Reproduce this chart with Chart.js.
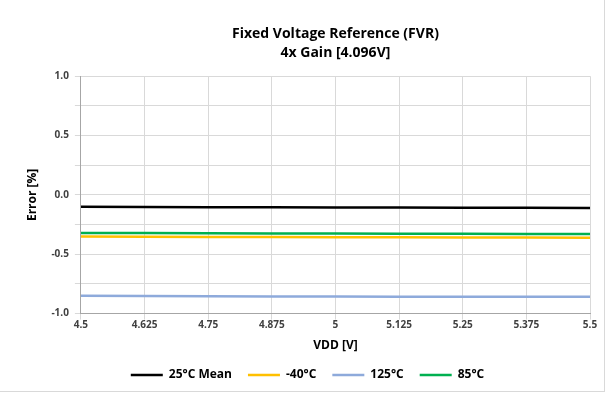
<!DOCTYPE html>
<html>
<head>
<meta charset="utf-8">
<script src="https://cdn.jsdelivr.net/npm/chart.js@4.4.0/dist/chart.umd.min.js"></script>
<style>
  html, body { margin: 0; padding: 0; background: #fff; }
  #wrap { width: 604px; height: 391px; border-right: 1px solid #d9d9d9; border-bottom: 1px solid #d9d9d9; }
</style>
</head>
<body>
<div id="wrap"><canvas id="grafico"></canvas></div>
<script>
// datos
const vdd = [4.5, 4.625, 4.75, 4.875, 5, 5.125, 5.25, 5.375, 5.5];
const mean25 = [-0.100, -0.102, -0.104, -0.105, -0.106, -0.107, -0.108, -0.109, -0.110];
const menos40 = [-0.350, -0.352, -0.354, -0.355, -0.356, -0.357, -0.358, -0.359, -0.360];
const t125 = [-0.850, -0.852, -0.854, -0.855, -0.856, -0.857, -0.857, -0.858, -0.858];
const t85 = [-0.320, -0.322, -0.324, -0.325, -0.326, -0.327, -0.328, -0.329, -0.330];

const nombres = ['25°C Mean', '-40°C', '125°C', '85°C'];
const colores = ['#000000', '#ffc000', '#8eaadb', '#00b050'];
const series = [mean25, menos40, t125, t85];

const fuente = '"Open Sans", "DejaVu Sans", sans-serif';

const datasets = series.map((s, i) => ({
  label: nombres[i],
  data: vdd.map((x, j) => ({ x: x, y: s[j] })),
  borderColor: colores[i],
  backgroundColor: colores[i],
  borderWidth: 2.5,
  pointRadius: 0,
  tension: 0
}));

const ctx = document.getElementById('grafico').getContext('2d');
const miGrafico = new Chart(ctx, {
  type: 'line',
  data: { datasets: datasets },
  options: {
    responsive: true,
    maintainAspectRatio: false,
    animation: false,
    layout: { padding: { left: 25, right: 14, top: 24, bottom: 0 } },
    plugins: {
      title: {
        display: true,
        text: ['Fixed Voltage Reference (FVR)', '4x Gain [4.096V]'],
        color: '#000',
        font: { family: fuente, size: 14, weight: 'bold', lineHeight: 1.4 },
        padding: { top: 0, bottom: 13 },
        fullSize: false
      },
      legend: {
        position: 'bottom',
        labels: {
          usePointStyle: true,
          pointStyle: 'line',
          pointStyleWidth: 32,
          boxHeight: 12,
          color: '#000',
          font: { family: fuente, size: 12, weight: 'bold' },
          padding: 16
        }
      },
      tooltip: { enabled: false }
    },
    scales: {
      x: {
        type: 'linear',
        min: 4.5,
        max: 5.5,
        ticks: {
          stepSize: 0.125,
          color: '#404040',
          font: { family: fuente, size: 10, weight: 'bold' },
          callback: v => String(+v.toFixed(3)),
          padding: 0
        },
        grid: { color: '#d9d9d9', tickLength: 6 },
        border: { color: '#a6a6a6' },
        title: {
          display: true,
          text: 'VDD [V]',
          color: '#000',
          font: { family: fuente, size: 12, weight: 'bold' },
          padding: { top: 7, bottom: 0 }
        }
      },
      y: {
        min: -1,
        max: 1,
        ticks: {
          stepSize: 0.25,
          color: '#404040',
          font: { family: fuente, size: 10, weight: 'bold' },
          callback: v => (Math.abs(v * 2 - Math.round(v * 2)) < 1e-6 ? v.toFixed(1) : ''),
          padding: 6
        },
        grid: { color: '#d9d9d9', tickLength: 6 },
        border: { color: '#a6a6a6' },
        title: {
          display: true,
          text: 'Error [%]',
          color: '#000',
          font: { family: fuente, size: 12, weight: 'bold' },
          padding: { top: 0, bottom: 6 }
        }
      }
    }
  }
});
</script>
</body>
</html>
